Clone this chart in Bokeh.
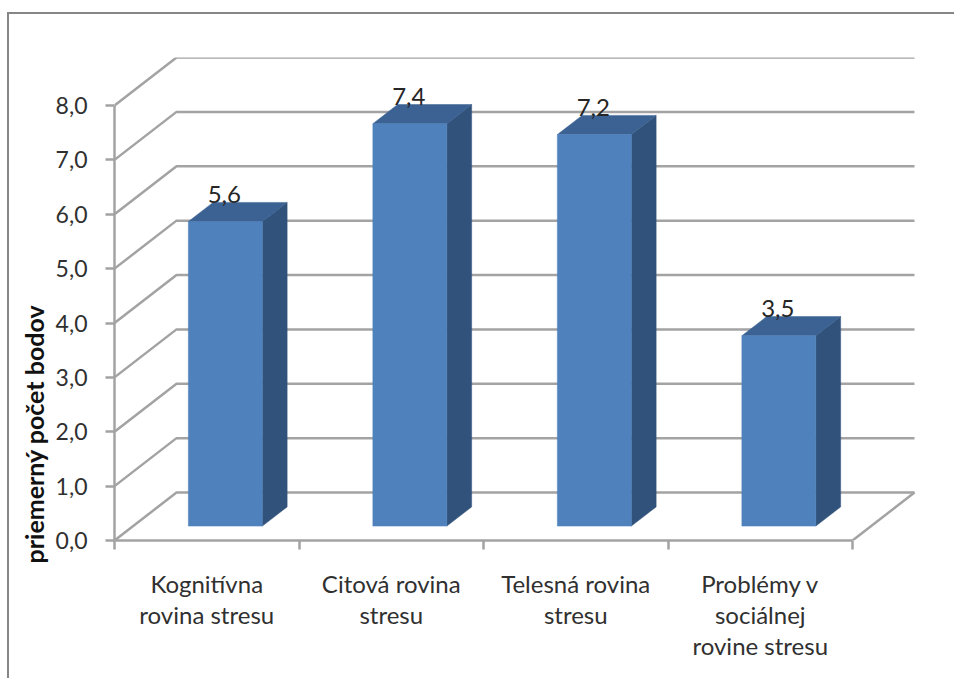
from bokeh.embed import file_html
from bokeh.resources import INLINE
from bokeh.plotting import figure
from bokeh.models import ColumnDataSource, FixedTicker, LabelSet, Range1d, Title
from bokeh.core.properties import value

# Survey results: mean score per stress dimension
categories = [
    "Kognitívna\nrovina stresu",
    "Citová rovina\nstresu",
    "Telesná rovina\nstresu",
    "Problémy v\nsociálnej\nrovine stresu",
]
scores = [5.6, 7.4, 7.2, 3.5]
y_ticks = [0, 1, 2, 3, 4, 5, 6, 7, 8]
y_title = "priemerný počet bodov"

FONT = "Lato"
GRID = "#A3A3A3"
FRONT, SIDE, TOP = "#4F81BD", "#31527B", "#3B6293"

# Oblique projection: depth of the plot floor, expressed in axis units
DEPTH_X = 62 / 184.5
DEPTH_Y = 48 / 54.375
BAR_WIDTH = 0.401
BAR_NEAR = 0.3    # fraction of the floor depth in front of a bar
BAR_DEEP = 0.4    # fraction of the floor depth taken by a bar

p = figure(width=945, height=664, frame_width=802, frame_height=483,
           min_border_left=105, min_border_right=38, min_border_top=43, min_border_bottom=138,
           x_range=Range1d(0, 802 / 184.5), y_range=Range1d(0, 483 / 54.375),
           margin=(12, 0, 0, 7),
           output_backend="svg", toolbar_location=None, tools="")
# Only the top and left sides of the chart border fall inside the page
p.styles = {"border-left": "2px solid #868686", "border-top": "2px solid #868686"}
p.outline_line_color = None
p.grid.visible = False
p.background_fill_color = "white"
p.border_fill_color = "white"

# Walls and floor
grid_xs, grid_ys = [], []
for t in y_ticks:
    grid_xs.append([0, DEPTH_X, 4 + DEPTH_X])
    grid_ys.append([t, t + DEPTH_Y, t + DEPTH_Y])
grid_xs.append([4, 4 + DEPTH_X])
grid_ys.append([0, DEPTH_Y])
p.multi_line(grid_xs, grid_ys, line_color=GRID, line_width=2.5)

# Extruded columns: front face, side face and lid
front_xs, front_ys, side_xs, side_ys, top_xs, top_ys = [], [], [], [], [], []
centers = []
for i, v in enumerate(scores):
    x0 = i + 0.5 + BAR_NEAR * DEPTH_X - BAR_WIDTH / 2
    x1 = x0 + BAR_WIDTH
    y0 = BAR_NEAR * DEPTH_Y
    y1 = y0 + v
    dx, dy = BAR_DEEP * DEPTH_X, BAR_DEEP * DEPTH_Y
    front_xs.append([x0, x1, x1, x0]); front_ys.append([y0, y0, y1, y1])
    side_xs.append([x1, x1 + dx, x1 + dx, x1]); side_ys.append([y0, y0 + dy, y1 + dy, y1])
    top_xs.append([x0, x1, x1 + dx, x0 + dx]); top_ys.append([y1, y1, y1 + dy, y1 + dy])
    centers.append((x0 + x1) / 2)

p.patches(side_xs, side_ys, fill_color=SIDE, line_color=SIDE, line_width=0.5)
p.patches(top_xs, top_ys, fill_color=TOP, line_color=TOP, line_width=0.5)
p.patches(front_xs, front_ys, fill_color=FRONT, line_color=FRONT, line_width=0.5)

# Value labels above the column fronts
value_src = ColumnDataSource(dict(
    x=centers,
    y=[BAR_NEAR * DEPTH_Y + v for v in scores],
    t=[f"{v:.1f}".replace(".", ",") for v in scores],
))
p.add_layout(LabelSet(x="x", y="y", text="t", source=value_src, y_offset=27, x_offset=-1,
                      text_align="center", text_baseline="middle",
                      text_font=value(FONT), text_font_size="24px", text_color="#262626"))

# Axes
p.yaxis.ticker = FixedTicker(ticks=y_ticks)
p.yaxis.bounds = (0, 8)
p.yaxis.major_label_overrides = {t: f"{t:.1f}".replace(".", ",") for t in y_ticks}
p.yaxis.major_label_text_font = FONT
p.yaxis.major_label_text_font_size = "23px"
p.yaxis.major_label_text_color = "#303030"
p.yaxis.major_label_standoff = 18
p.yaxis.major_tick_in = 0
p.yaxis.major_tick_out = 9
p.yaxis.minor_tick_line_color = None
p.yaxis.axis_line_color = GRID
p.yaxis.axis_line_width = 2.5
p.yaxis.major_tick_line_color = GRID
p.yaxis.major_tick_line_width = 2.5

# Category names sit at the slot centres, tick marks on the slot boundaries
slot_centres = [i + 0.5 for i in range(len(categories))]
p.xaxis.ticker = FixedTicker(ticks=slot_centres, minor_ticks=list(range(len(categories) + 1)))
p.xaxis.bounds = (0, len(categories))
p.xaxis.major_label_overrides = dict(zip(slot_centres, categories))
p.xaxis.major_label_text_font = FONT
p.xaxis.major_label_text_font_size = "24px"
p.xaxis.major_label_text_color = "#303030"
p.xaxis.major_label_text_line_height = 1.07
p.xaxis.major_label_standoff = 19
p.xaxis.major_tick_line_color = None
p.xaxis.major_tick_in = 0
p.xaxis.major_tick_out = 0
p.xaxis.minor_tick_in = 0
p.xaxis.minor_tick_out = 9
p.xaxis.minor_tick_line_color = GRID
p.xaxis.minor_tick_line_width = 2.5
p.xaxis.axis_line_color = GRID
p.xaxis.axis_line_width = 2.5

# Value-axis caption, pushed down towards the axis origin
p.add_layout(Title(text=y_title, align="left", offset=-23, standoff=8, text_font=FONT,
                   text_font_style="bold", text_font_size="25px", text_color="#111111"), "left")

open("out.html", "w").write(file_html(p, INLINE))
